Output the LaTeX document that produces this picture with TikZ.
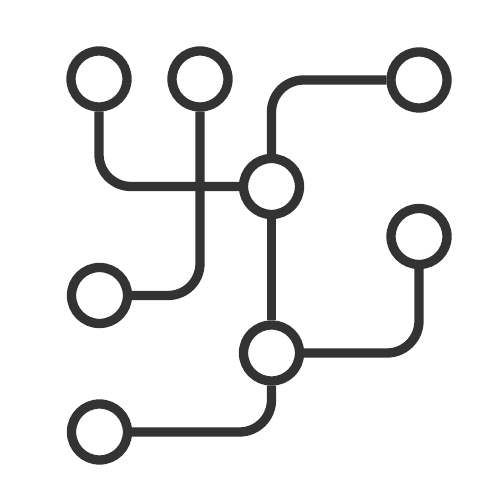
\documentclass[tikz,border=0pt]{standalone}
\definecolor{icongray}{HTML}{333333}

\begin{document}
\begin{tikzpicture} [every node/.style={circle, draw=icongray, fill=white, line width=5.3pt, inner sep=0pt, minimum size=1.12cm},
            edge_style/.style={draw=icongray, line width=5.3pt, rounded corners=0.64cm}]
            \useasboundingbox (0,0) rectangle (10,10);
            \node (v1) at (1.98,8.42) {};
            \node (v2) at (4.00,8.42) {};
            \node (v3) at (8.38,8.40) {};
            \node (v4) at (5.43,6.27) {};
            \node (v5) at (8.38,5.27) {};
            \node (v6) at (1.99,4.09) {};
            \node (v7) at (5.43,2.94) {};
            \node (v8) at (1.99,1.36) {};
            \draw[edge_style] (v1) |- (v4);
            \draw[edge_style] (v2) |- (v6);
            \draw[edge_style] (v4) |- (v3);
            \draw[edge_style] (v4) -- (v7);
            \draw[edge_style] (v5) |- (v7);
            \draw[edge_style] (v7) |- (v8);
        \end{tikzpicture}
\end{document}
